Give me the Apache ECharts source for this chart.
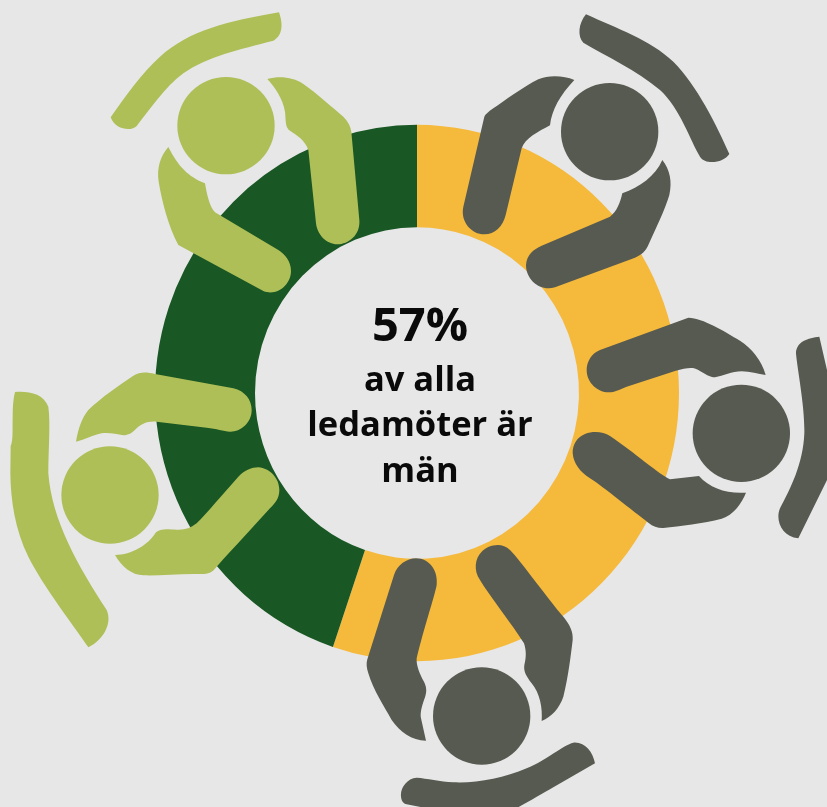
<!DOCTYPE html>
<html><head><meta charset="utf-8">
<style>html,body{margin:0;padding:0;background:#e7e7e7}#c{width:827px;height:807px}</style>
<script src="https://cdn.jsdelivr.net/npm/echarts@6/dist/echarts.min.js"></script>
</head><body><div id="c"></div>
<script>
// Data
const categories = ['Män', 'Kvinnor'];
const shares = [55.2, 44.8];
const headline = '57%';
const captionLines = ['av alla', 'ledamöter är', 'män'];

// Colours
const BG = '#e7e7e7', ORANGE = '#f5b93c', FOREST = '#195724', OLIVE = '#aebf58', SLATE = '#565a50';
const sliceColors = [ORANGE, FOREST];

// Decorative person icons (traced outlines, not data)
const people = [
  { ox: 100, oy: 0, fill: OLIVE, head: [378, 377], paths: [
    'M537 37 C547 65 552 105 520 122 C420 148 320 170 250 220 C195 260 145 335 110 378 C95 395 45 390 32 352 C75 290 125 220 180 170 C270 90 380 65 537 37 Z',
    'M502 237 C540 227 580 232 610 252 C650 280 700 325 730 350 C745 365 752 380 754 395 L778 660 C782 705 745 733 712 733 C680 733 652 705 648 670 L625 450 C615 420 590 405 570 392 C555 382 558 365 555 335 C548 295 525 262 502 237 Z',
    'M205 441 C180 470 170 505 176 545 C185 600 205 680 235 735 L490 873 C530 890 573 855 573 813 C573 785 555 762 535 750 L345 637 C328 620 320 580 315 550 C265 530 235 500 205 441 Z'
  ]},
  { ox: 460, oy: 0, fill: SLATE, head: [449, 395], paths: [
    'M378 43 C355 70 352 110 370 128 C440 170 530 210 600 270 C660 325 690 420 720 470 C735 495 790 490 808 462 C770 375 710 255 640 185 C570 120 470 85 378 43 Z',
    'M343 240 C310 226 265 225 235 238 C190 260 130 305 100 325 C85 335 78 342 73 350 L10 620 C0 665 35 703 73 703 C105 703 128 680 137 645 L185 445 C195 415 235 395 270 376 C275 330 300 285 343 240 Z',
    'M607 480 C630 510 637 545 628 585 C615 630 585 690 565 735 C558 752 545 765 525 773 L285 862 C240 875 198 840 198 795 C200 765 220 748 245 737 L450 650 C470 635 480 610 487 580 C540 560 585 530 607 480 Z'
  ]},
  { ox: 560, oy: 300, fill: SLATE, head: [544, 400], paths: [
    'M778 110 C745 113 708 125 708 160 C712 210 735 320 733 400 C730 490 690 570 660 625 C645 660 665 710 715 715 L801 540 L830 400 L801 210 Z',
    'M617 225 C605 180 575 145 540 122 C490 92 430 55 385 53 L120 150 C95 160 80 185 80 210 C80 250 115 277 145 277 C165 277 180 268 200 260 L345 213 C380 203 400 200 415 210 C435 222 450 232 465 232 C490 228 515 214 545 214 C570 214 595 222 617 225 Z',
    'M558 578 C500 582 450 565 417 528 L330 538 C300 525 220 455 150 408 C130 395 100 392 75 402 C50 412 38 435 38 458 C40 490 60 515 90 535 C130 560 220 635 265 668 C280 680 295 685 310 684 C360 678 430 670 485 656 C520 645 545 610 558 578 Z'
  ]},
  { ox: 320, oy: 530, fill: SLATE, head: [485, 558], paths: [
    'M825 700 C818 665 795 635 760 638 C730 645 680 690 620 715 C550 745 470 760 400 757 C360 755 320 745 290 743 C260 745 240 775 243 800 C245 815 250 820 260 823 L400 850 L560 850 C600 830 660 795 700 772 Z',
    'M318 632 C275 632 240 605 215 570 C190 525 160 480 145 430 C140 415 138 400 142 388 L222 135 C232 105 260 85 288 85 C330 85 355 125 350 165 C345 195 310 300 290 385 C288 405 300 435 312 455 C322 475 320 490 312 510 C305 530 300 550 303 565 L318 632 Z',
    'M665 573 C668 535 660 490 635 460 C620 440 610 425 613 405 C618 385 620 365 612 340 C575 280 510 200 480 150 C460 120 465 85 485 65 C505 45 545 35 570 60 C600 90 690 215 730 260 C750 285 760 305 758 330 C752 380 745 440 730 500 C718 535 695 560 665 573 Z'
  ]},
  { ox: 0, oy: 360, fill: OLIVE, head: [330, 405], paths: [
    'M45 96 C85 93 130 100 145 140 C152 190 145 270 145 340 C155 480 235 620 320 750 C338 790 310 840 265 862 C220 795 130 680 85 590 C45 510 32 420 31 340 L32 258 C40 240 37 210 38 170 C38 140 40 115 45 96 Z',
    'M228 245 C235 205 245 175 265 150 C300 115 365 70 400 47 C420 35 440 36 465 42 L700 85 C735 93 755 120 755 150 C755 190 720 216 690 215 C670 213 650 206 620 203 L470 185 C440 183 425 192 410 205 C395 220 385 226 370 226 C350 222 325 217 305 220 C280 224 255 240 228 245 Z',
    'M345 585 C395 585 445 555 468 517 C480 505 500 507 530 509 C555 510 570 505 590 490 C620 460 670 400 715 350 C735 330 755 322 775 322 C810 325 838 355 838 390 C838 415 825 430 810 445 C760 500 700 565 650 620 C635 640 620 643 600 642 C540 640 480 648 430 646 C395 645 365 620 345 585 Z'
  ]}
];

const chart = echarts.init(document.getElementById('c'), null, { renderer: 'canvas' });
const CX = 417, CY = 393;
const FONT = '"Open Sans", sans-serif';
const total = shares.reduce((a, b) => a + b, 0);
const toAngle = v => echarts.number.linearMap(v, [0, total], [-Math.PI / 2, Math.PI * 1.5]);
const cumulative = shares.map((_, i) => shares.slice(0, i).reduce((a, b) => a + b, 0));

chart.setOption({
  backgroundColor: BG,
  animation: false,
  series: [
    {
      // The reference ring is slightly taller than wide, which a pie series cannot draw
      name: 'Ledamöter',
      type: 'custom',
      z: 2,
      silent: true,
      coordinateSystem: 'none',
      data: categories.map((name, i) => ({ name, value: [shares[i], cumulative[i], i] })),
      renderItem: (params, api) => {
        const v = api.value(0), from = api.value(1), i = api.value(2);
        return {
          type: 'group',
          x: CX, y: CY, scaleY: 1.0235,
          children: [{
            type: 'sector',
            shape: { cx: 0, cy: 0, r: 262, r0: 162, startAngle: toAngle(from), endAngle: toAngle(from + v), clockwise: true },
            style: { fill: sliceColors[i] }
          }]
        };
      }
    },
    {
      type: 'custom',
      z: 3,
      silent: true,
      coordinateSystem: 'none',
      data: people.map((_, i) => i),
      renderItem: (params, api) => {
        const p = people[api.value(0)];
        return {
          type: 'group',
          x: p.ox, y: p.oy, scaleX: 1 / 3, scaleY: 1 / 3,
          children: [
            { type: 'circle', shape: { cx: p.head[0], cy: p.head[1], r: 146 }, style: { fill: p.fill } }
          ].concat(p.paths.map(d => ({
            type: 'path', shape: { pathData: d }, style: { fill: p.fill }
          })))
        };
      }
    }
  ],
  graphic: [
    { type: 'text', z: 10, x: CX + 3, y: 351, style: { text: headline, fill: '#0a0a0a', font: `700 47px ${FONT}`, textAlign: 'center', textVerticalAlign: 'bottom', lineHeight: 47 } }
  ].concat(captionLines.map((t, i) => ({
    type: 'text', z: 10, x: CX + 3, y: [398, 443, 489][i],
    style: { text: t, fill: '#0a0a0a', font: `700 34.5px ${FONT}`, textAlign: 'center', textVerticalAlign: 'bottom', lineHeight: 34.5 }
  })))
});
</script></body></html>
